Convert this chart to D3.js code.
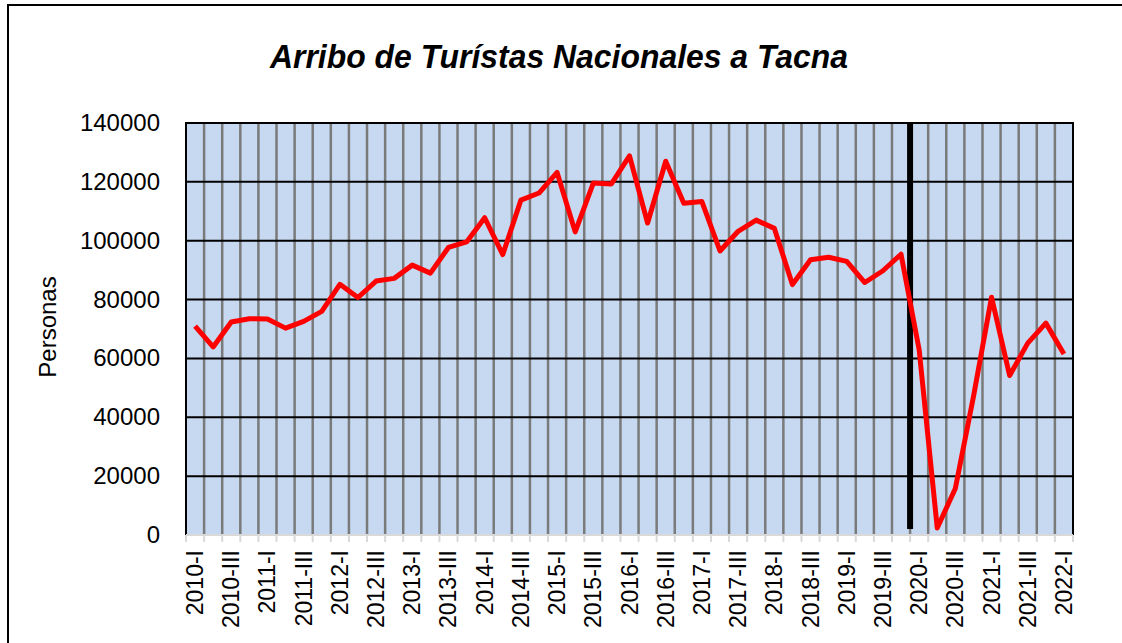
<!DOCTYPE html>
<html>
<head>
<meta charset="utf-8">
<script src="https://cdn.jsdelivr.net/npm/d3@7"></script>
<style>
  body { margin: 0; background: #fff; }
  svg { display: block; font-family: "Liberation Sans", Arial, sans-serif; }
</style>
</head>
<body>
<svg id="chart" width="1122" height="643"></svg>
<script>
const categories = [
  "2010-I", "2010-II", "2010-III", "2010-IV",
  "2011-I", "2011-II", "2011-III", "2011-IV",
  "2012-I", "2012-II", "2012-III", "2012-IV",
  "2013-I", "2013-II", "2013-III", "2013-IV",
  "2014-I", "2014-II", "2014-III", "2014-IV",
  "2015-I", "2015-II", "2015-III", "2015-IV",
  "2016-I", "2016-II", "2016-III", "2016-IV",
  "2017-I", "2017-II", "2017-III", "2017-IV",
  "2018-I", "2018-II", "2018-III", "2018-IV",
  "2019-I", "2019-II", "2019-III", "2019-IV",
  "2020-I", "2020-II", "2020-III", "2020-IV",
  "2021-I", "2021-II", "2021-III", "2021-IV",
  "2022-I"
];

const personas = [
  71000, 63900, 72400, 73500, 73400, 70300, 72600, 76000,
  85200, 80700, 86300, 87200, 91700, 89000, 97700, 99600,
  107800, 95300, 113800, 116200, 123200, 103000, 119600, 119300,
  128800, 106000, 127000, 112700, 113300, 96500, 103200, 107000,
  104200, 85100, 93500, 94400, 93000, 85800, 89800, 95400,
  63000, 2400, 15800, 47000, 80800, 54200, 65200, 72000,
  61500
];

const yTicks = [0, 20000, 40000, 60000, 80000, 100000, 120000, 140000];
const markerCategory = "2020-I";

const margin = { top: 123, right: 49, bottom: 108, left: 186 };
const width = 1122 - margin.left - margin.right;
const height = 643 - margin.top - margin.bottom;

const svgRoot = d3.select("#chart");

// outer frame (left and top edges only visible)
svgRoot.append("path")
  .attr("d", "M8,643 L8,5 L1122,5")
  .attr("fill", "none")
  .attr("stroke", "#000")
  .attr("stroke-width", 2);

svgRoot.append("text")
  .attr("x", 559)
  .attr("y", 68)
  .attr("text-anchor", "middle")
  .attr("font-size", 33)
  .attr("font-weight", "bold")
  .attr("font-style", "italic")
  .attr("textLength", 578)
  .attr("lengthAdjust", "spacingAndGlyphs")
  .text("Arribo de Turístas Nacionales a Tacna");

const svg = svgRoot.append("g")
  .attr("transform", `translate(${margin.left},${margin.top})`);

const x = d3.scaleBand()
  .domain(categories)
  .range([0, width])
  .padding(0);

const y = d3.scaleLinear()
  .domain([0, 140000])
  .range([height, 0]);

svg.append("rect")
  .attr("width", width)
  .attr("height", height)
  .attr("fill", "#c6d9f1");

// vertical gridlines at category boundaries
svg.selectAll(".vgrid")
  .data(categories.slice(1))
  .enter().append("line")
  .attr("class", "vgrid")
  .attr("x1", d => x(d))
  .attr("x2", d => x(d))
  .attr("y1", 0)
  .attr("y2", height)
  .attr("stroke", "#7a7a7a")
  .attr("stroke-width", 2.5);

// horizontal gridlines
svg.selectAll(".hgrid")
  .data(yTicks.slice(1))
  .enter().append("line")
  .attr("class", "hgrid")
  .attr("x1", 0)
  .attr("x2", width)
  .attr("y1", d => y(d))
  .attr("y2", d => y(d))
  .attr("stroke", "#000")
  .attr("stroke-width", 2);

// plot border
svg.append("path")
  .attr("d", `M0,${height} L0,0 L${width},0 L${width},${height}`)
  .attr("fill", "none")
  .attr("stroke", "#000")
  .attr("stroke-width", 2);

// x axis: light gray line and tick marks at boundaries, labels every other category
const xAxis = svg.append("g")
  .attr("transform", `translate(0,${height})`);

xAxis.append("line")
  .attr("x1", 0)
  .attr("x2", width)
  .attr("stroke", "#d9d9d9")
  .attr("stroke-width", 2);

xAxis.selectAll(".xtick")
  .data(categories.concat(["end"]))
  .enter().append("line")
  .attr("x1", (d, i) => i * x.step())
  .attr("x2", (d, i) => i * x.step())
  .attr("y1", 0)
  .attr("y2", 7)
  .attr("stroke", "#d9d9d9")
  .attr("stroke-width", 2);

xAxis.selectAll(".xlabel")
  .data(categories.filter((d, i) => i % 2 === 0))
  .enter().append("text")
  .attr("class", "xlabel")
  .attr("transform", d => `translate(${x(d) + x.bandwidth() / 2 + 8},${15}) rotate(-90)`)
  .attr("text-anchor", "end")
  .attr("font-size", 23)
  .attr("fill", "#000")
  .text(d => d);

// y axis labels
svg.selectAll(".ylabel")
  .data(yTicks)
  .enter().append("text")
  .attr("class", "ylabel")
  .attr("x", -26)
  .attr("y", d => y(d) + 8)
  .attr("text-anchor", "end")
  .attr("font-size", 24)
  .attr("fill", "#000")
  .text(d => d);

svgRoot.append("text")
  .attr("transform", "translate(56,327) rotate(-90)")
  .attr("text-anchor", "middle")
  .attr("font-size", 24)
  .attr("fill", "#000")
  .text("Personas");

// thick black marker before 2020-I
svg.append("line")
  .attr("x1", x(markerCategory))
  .attr("x2", x(markerCategory))
  .attr("y1", 0)
  .attr("y2", height - 6)
  .attr("stroke", "#000")
  .attr("stroke-width", 6);

const line = d3.line()
  .x((d, i) => x(categories[i]) + x.bandwidth() / 2)
  .y(d => y(d));

svg.append("path")
  .datum(personas)
  .attr("fill", "none")
  .attr("stroke", "#ff0000")
  .attr("stroke-width", 5)
  .attr("stroke-linejoin", "round")
  .attr("d", line);
</script>
</body>
</html>
